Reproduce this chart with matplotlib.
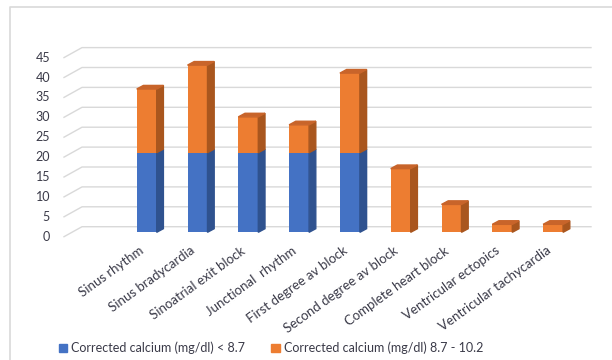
import matplotlib
matplotlib.use("Agg")
import matplotlib.pyplot as plt
from matplotlib.patches import Polygon, Patch

plt.rcParams['font.family'] = ['Lato', 'DejaVu Sans']

# ECG findings split by corrected calcium level
categories = ['Sinus rhythm', 'Sinus bradycardia', 'Sinoatrial exit block',
              'Junctional  rhythm', 'First degree av block', 'Second degree av block',
              'Complete heart block', 'Ventricular ectopics', 'Ventricular tachycardia']
low_calcium = [20, 20, 20, 20, 20, 0, 0, 0, 0]
normal_calcium = [16, 22, 9, 7, 20, 16, 7, 2, 2]
series_names = ['Corrected calcium (mg/dl) < 8.7', 'Corrected calcium (mg/dl) 8.7 - 10.2']
yticks = list(range(0, 50, 5))

BLUE, BLUE_SIDE = '#4472C4', '#2F528F'
ORANGE, ORANGE_SIDE, ORANGE_TOP = '#ED7D31', '#A9561E', '#C8642A'
GRID = '#D9D9D9'
TEXT = '#3A3A48'

# pseudo-3d layout: one category = 50.8 px, one unit = 3.98 px
W, H = 612, 360
PX_CAT, PX_VAL = 50.8, 3.98
X0, Y0 = 146.7, 232.3          # pixel position of first bar centre / zero line
BAR_W = 20 / PX_CAT
DEPTH = (6.7 / PX_CAT, 3.6 / PX_VAL)       # bar depth offset
BACK = (10 / PX_CAT, 5.6 / PX_VAL)         # back wall offset from bar plane
FRONT = (-8 / PX_CAT, -4.4 / PX_VAL)       # front edge offset from bar plane
WALL_L, WALL_R = (82 - X0) / PX_CAT, (591 - X0) / PX_CAT

fig = plt.figure(figsize=(W / 100, H / 100), dpi=100)
ax = fig.add_axes([0, 0, 1, 1])
ax.set_xlim(-X0 / PX_CAT, (W - X0) / PX_CAT)
ax.set_ylim((Y0 - H) / PX_VAL, Y0 / PX_VAL)
ax.axis('off')

# chart area border (top and left only, rest is cut off)
fig.add_artist(plt.Line2D([10 / W, 10 / W, 1], [0, 1 - 7 / H, 1 - 7 / H],
                          color=GRID, lw=1.2, transform=fig.transFigure))

# gridlines: back wall plus slanted side wall
for v in yticks:
    ax.plot([WALL_L + FRONT[0] - BACK[0], WALL_L, WALL_R],
            [v + FRONT[1], v + BACK[1], v + BACK[1]], color=GRID, lw=1, zorder=1)
    ax.text(WALL_L + FRONT[0] - BACK[0] - 14 / PX_CAT, v + FRONT[1], str(v),
            ha='right', va='center', fontsize=9, color=TEXT)


def box(x, bottom, top, front, side, roof):
    ax.bar(x, top - bottom, bottom=bottom, width=BAR_W, color=front, zorder=3)
    r = x + BAR_W / 2
    dx, dy = DEPTH
    ax.add_patch(Polygon([(r, bottom), (r + dx, bottom + dy), (r + dx, top + dy), (r, top)],
                         closed=True, color=side, zorder=3))
    if roof is not None:
        l = x - BAR_W / 2
        ax.add_patch(Polygon([(l, top), (r, top), (r + dx, top + dy), (l + dx, top + dy)],
                             closed=True, color=roof, zorder=3))


for i, (lo, hi) in enumerate(zip(low_calcium, normal_calcium)):
    if lo > 0:
        box(i, 0, lo, BLUE, BLUE_SIDE, None if hi > 0 else BLUE_SIDE)
    if hi > 0:
        box(i, lo, lo + hi, ORANGE, ORANGE_SIDE, ORANGE_TOP)
    ax.text(i - 4 / PX_CAT, -17 / PX_VAL, categories[i], rotation=36,
            rotation_mode='anchor', ha='right', va='center', fontsize=9.5, color=TEXT)

handles = [Patch(color=BLUE), Patch(color=ORANGE)]
fig.legend(handles, series_names, loc='center', bbox_to_anchor=(271 / W, 1 - 348 / H),
           ncol=2, frameon=False, fontsize=9, handlelength=0.7, handleheight=0.7,
           handletextpad=0.3, columnspacing=2.1, labelcolor=TEXT)

fig.savefig('out.png', dpi=100)
